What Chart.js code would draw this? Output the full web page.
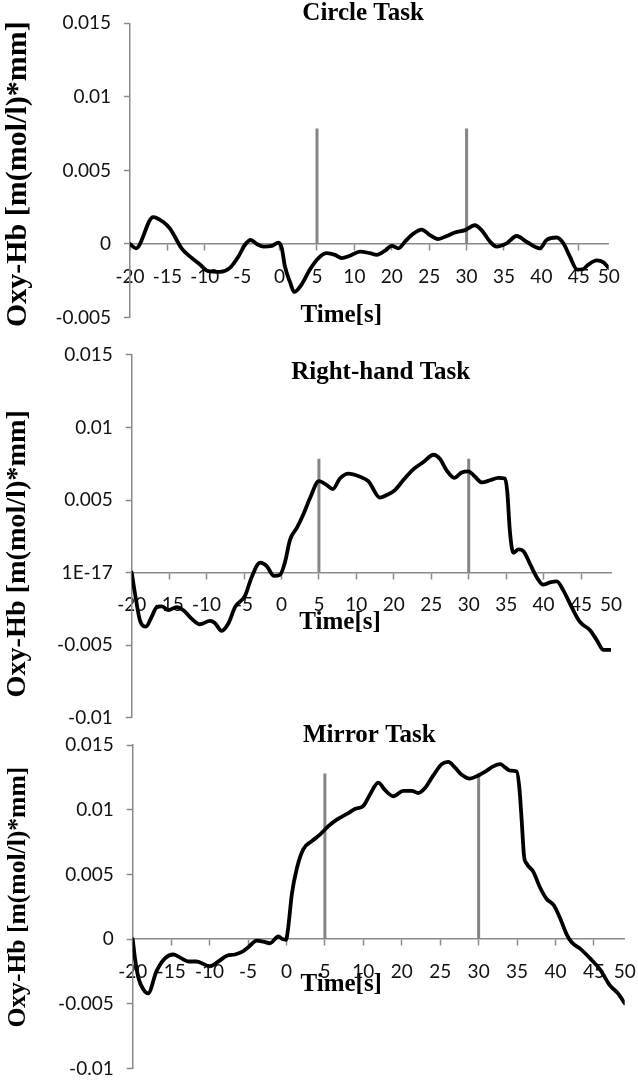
<!DOCTYPE html>
<html><head><meta charset="utf-8">
<script src="https://cdn.jsdelivr.net/npm/chart.js@4.4.1/dist/chart.umd.min.js"></script>
<style>
html,body{margin:0;padding:0;background:#fff;}
body{width:638px;height:1091px;position:relative;overflow:hidden;}
canvas{position:absolute;left:0;}
</style></head><body>
<canvas id="c1" width="638" height="340" style="top:0px"></canvas>
<canvas id="c2" width="638" height="410" style="top:330px"></canvas>
<canvas id="c3" width="638" height="391" style="top:700px"></canvas>
<script>
// ---- data ----
const xTickLabels = ['-20','-15','-10','-5','0','5','10','20','25','30','35','40','45','50'];
const xTickIndex  = [0,1,2,3,4,5,6,7,8,9,10,11,12,12.8];

const circleX = [0,0.16,0.62,0.89,1.07,1.38,1.6,1.87,2.09,2.41,2.67,2.9,3.07,3.23,3.39,3.57,3.79,3.97,4.06,4.14,4.28,4.39,4.59,4.81,5.04,5.26,5.48,5.66,5.88,6.15,6.42,6.6,6.82,7.0,7.18,7.35,7.58,7.8,8.02,8.24,8.47,8.69,8.96,9.22,9.4,9.63,9.8,10.07,10.34,10.6,10.96,11.14,11.41,11.59,11.76,11.96,12.12,12.26,12.48,12.66,12.8];
const circleY = [0,-0.0003,0.00183,0.00149,0.00104,-0.0003,-0.00085,-0.0014,-0.00185,-0.0019,-0.00163,-0.00085,-0.00007,0.00027,0,-0.00018,-0.00013,0.00009,-0.0003,-0.0015,-0.0026,-0.00326,-0.00275,-0.00174,-0.00096,-0.00063,-0.00074,-0.00096,-0.0008,-0.00052,-0.00063,-0.00074,-0.00045,-0.00013,-0.0003,0.00015,0.00071,0.00098,0.0006,0.00033,0.00054,0.00078,0.00094,0.00127,0.00094,0.00015,-0.00018,0.00004,0.00054,0.00015,-0.0003,0.00027,0.00044,0.00004,-0.00085,-0.00174,-0.0017,-0.0014,-0.00112,-0.00125,-0.00163];

const rightX = [0,0.09,0.22,0.38,0.53,0.67,0.8,0.98,1.2,1.38,1.6,1.82,2.09,2.22,2.4,2.58,2.76,3.03,3.2,3.43,3.6,3.8,3.96,4.09,4.23,4.41,4.58,4.76,5.0,5.21,5.37,5.56,5.79,6.1,6.32,6.63,6.81,7.03,7.25,7.52,7.79,8.06,8.23,8.41,8.61,8.81,8.99,9.17,9.35,9.57,9.79,9.97,10.03,10.1,10.19,10.33,10.46,10.64,10.82,10.99,11.17,11.35,11.53,11.75,11.97,12.24,12.42,12.6,12.8];
const rightY = [0,-0.00148,-0.0033,-0.00373,-0.00307,-0.00239,-0.00234,-0.0026,-0.00239,-0.0026,-0.00318,-0.00357,-0.00334,-0.00348,-0.00402,-0.00352,-0.00239,-0.00159,-0.00034,0.00068,0.00046,-0.00023,-0.00016,0.00068,0.00227,0.00307,0.00398,0.00512,0.0063,0.00603,0.00575,0.00648,0.00682,0.0066,0.0063,0.00516,0.00534,0.00568,0.00636,0.00711,0.00762,0.00812,0.00784,0.00705,0.00653,0.00689,0.00698,0.0066,0.00621,0.00636,0.00653,0.00648,0.00557,0.00284,0.00136,0.00159,0.00148,0.00057,-0.00034,-0.00084,-0.00068,-0.00061,-0.00125,-0.00239,-0.00341,-0.00398,-0.00466,-0.00534,-0.00534];

const mirrorX = [0,0.06,0.15,0.28,0.4,0.62,0.84,1.06,1.27,1.45,1.66,2.01,2.23,2.45,2.66,2.84,3.01,3.23,3.4,3.57,3.79,3.9,3.99,4.05,4.14,4.27,4.44,4.66,4.87,5.09,5.31,5.57,5.78,6.0,6.17,6.39,6.56,6.78,7.04,7.26,7.43,7.6,7.82,8.04,8.21,8.38,8.56,8.77,8.99,9.21,9.38,9.56,9.69,9.82,9.99,10.06,10.12,10.18,10.25,10.42,10.6,10.77,10.96,11.12,11.29,11.42,11.64,11.9,12.16,12.42,12.63,12.8];
const mirrorY = [0,-0.0015,-0.003,-0.0039,-0.0042,-0.00248,-0.00149,-0.00119,-0.00149,-0.00173,-0.00173,-0.0021,-0.00173,-0.00129,-0.00119,-0.00099,-0.00062,-0.00012,-0.0002,-0.00032,0.0002,0,-0.00005,0.001,0.00347,0.00546,0.00695,0.00757,0.00807,0.00873,0.00923,0.00967,0.01005,0.0103,0.01116,0.0121,0.01153,0.01104,0.01146,0.01146,0.01129,0.01166,0.01265,0.01352,0.01369,0.01327,0.0127,0.0124,0.01265,0.01302,0.01335,0.01352,0.01327,0.01302,0.01295,0.01166,0.00918,0.00645,0.00583,0.00521,0.00397,0.0031,0.0026,0.00161,0.00037,-0.00025,-0.00074,-0.00149,-0.00235,-0.0036,-0.00421,-0.00496];

const circleYTicks  = [-0.005,0,0.005,0.01,0.015];
const circleYLabels = ['-0.005','0','0.005','0.01','0.015'];
const rightYTicks   = [-0.01,-0.005,0,0.005,0.01,0.015];
const rightYLabels  = ['-0.01','-0.005','1E-17','0.005','0.01','0.015'];
const mirrorYTicks  = [-0.01,-0.005,0,0.005,0.01,0.015];
const mirrorYLabels = ['-0.01','-0.005','0','0.005','0.01','0.015'];

const markerIndex = [5, 9];            // the 5 s and 30 s categories
const markerTop   = [0.00785, 0.00785, 0.0128];

const panelTitles = ['Circle Task', 'Right-hand Task', 'Mirror Task'];
const xAxisTitle = 'Time[s]';
const yAxisTitle = 'Oxy-Hb [m(mol/l)*mm]';

// ---- drawing ----
const SERIF = '"Liberation Serif", "Times New Roman", serif';
const SANS = 'Lato, "Open Sans", sans-serif';
const GRAY = '#8a8a8a';
const sp = n => ' '.repeat(n);

function makeChart(id, d, L) {
  const datasets = markerIndex.map(m => ({
    data: [{x: m, y: 0}, {x: m, y: d.markerTop}],
    borderColor: '#858585', borderWidth: 3, pointRadius: 0, tension: 0,
    borderCapStyle: 'butt', order: 2
  }));
  datasets.push({
    data: d.xs.map((x, i) => ({x: x, y: d.ys[i]})),
    borderColor: '#000', borderWidth: 3.8, pointRadius: 0,
    cubicInterpolationMode: 'monotone', borderJoinStyle: 'round', borderCapStyle: 'round',
    order: 1
  });
  return new Chart(document.getElementById(id), {
    type: 'line',
    data: {datasets},
    options: {
      responsive: false, animation: false, events: [],
      layout: {padding: {left: 0, top: 0, right: L.padRight, bottom: L.padBottom}},
      plugins: {
        legend: {display: false}, tooltip: {enabled: false},
        title: {
          display: true, text: L.titleText, fullSize: false, color: '#000',
          font: {family: SERIF, size: 25, weight: 'bold', lineHeight: 0.8},
          padding: {top: L.titleTop, bottom: L.titleBottom}
        }
      },
      scales: {
        x: {
          type: 'linear', min: 0, max: xTickIndex[xTickIndex.length - 1], position: {y: 0},
          afterBuildTicks: sc => { sc.ticks = xTickIndex.map(v => ({value: v})); },
          afterFit: sc => { sc.paddingLeft = 0; sc.paddingRight = 0; },
          ticks: {autoSkip: false, maxRotation: 0, minRotation: 0, padding: 17, color: '#111',
                  font: {family: SANS, size: 19, lineHeight: 1},
                  callback: (v, i) => xTickLabels[i]},
          grid: {drawOnChartArea: false, drawTicks: true, tickLength: 6, tickWidth: 1.5,
                 color: c => (c.index === xTickIndex.length - 1 ? 'rgba(0,0,0,0)' : GRAY)},
          border: {display: true, color: GRAY, width: 1.5},
          title: {display: true, text: L.xTitleText, color: '#000',
                  font: {family: SERIF, size: 25, weight: 'bold', lineHeight: 1.2},
                  padding: {top: L.xTitleTop, bottom: 0}}
        },
        y: {
          type: 'linear', min: d.yTicks[0], max: d.yTicks[d.yTicks.length - 1], position: 'left',
          afterFit: sc => { sc.width = L.axisX; },
          afterBuildTicks: sc => { sc.ticks = d.yTicks.map(v => ({value: v})); },
          ticks: {padding: 13, color: '#111', font: {family: SANS, size: 19, lineHeight: 1},
                  callback: (v, i) => d.yLabels[i]},
          grid: {drawOnChartArea: false, drawTicks: true, tickLength: 6, tickWidth: 1.5, color: GRAY},
          border: {display: true, color: GRAY, width: 1.5},
          title: {display: true, text: L.yTitleText, color: '#000',
                  font: {family: SERIF, size: L.yTitleSize, weight: 'bold', lineHeight: 1.2},
                  padding: {top: L.yTitlePad, bottom: 0}}
        }
      }
    }
  });
}

makeChart('c1',
  {xs: circleX, ys: circleY, yTicks: circleYTicks, yLabels: circleYLabels, markerTop: markerTop[0]},
  {axisX: 130, padRight: 29.3, padBottom: 18, titleTop: 3.8, titleBottom: -0.5,
   titleText: panelTitles[0] + sp(2), xTitleText: xAxisTitle + sp(9), xTitleTop: -2,
   yTitleText: yAxisTitle + sp(1), yTitleSize: 30, yTitlePad: 0});

makeChart('c2',
  {xs: rightX, ys: rightY, yTicks: rightYTicks, yLabels: rightYLabels, markerTop: markerTop[1]},
  {axisX: 131.7, padRight: 27, padBottom: 18.3, titleTop: 32.8, titleBottom: -27.8,
   titleText: sp(3) + panelTitles[1], xTitleText: xAxisTitle + sp(10), xTitleTop: -24,
   yTitleText: yAxisTitle + sp(5), yTitleSize: 28.2, yTitlePad: 1.2});

makeChart('c3',
  {xs: mirrorX, ys: mirrorY, yTicks: mirrorYTicks, yLabels: mirrorYLabels, markerTop: markerTop[2]},
  {axisX: 132.7, padRight: 13.3, padBottom: 10, titleTop: 25.8, titleBottom: -0.8,
   titleText: panelTitles[2] + sp(3), xTitleText: xAxisTitle + sp(12), xTitleTop: -29,
   yTitleText: sp(3) + yAxisTitle, yTitleSize: 25.6, yTitlePad: 2.6});
</script>
</body></html>
